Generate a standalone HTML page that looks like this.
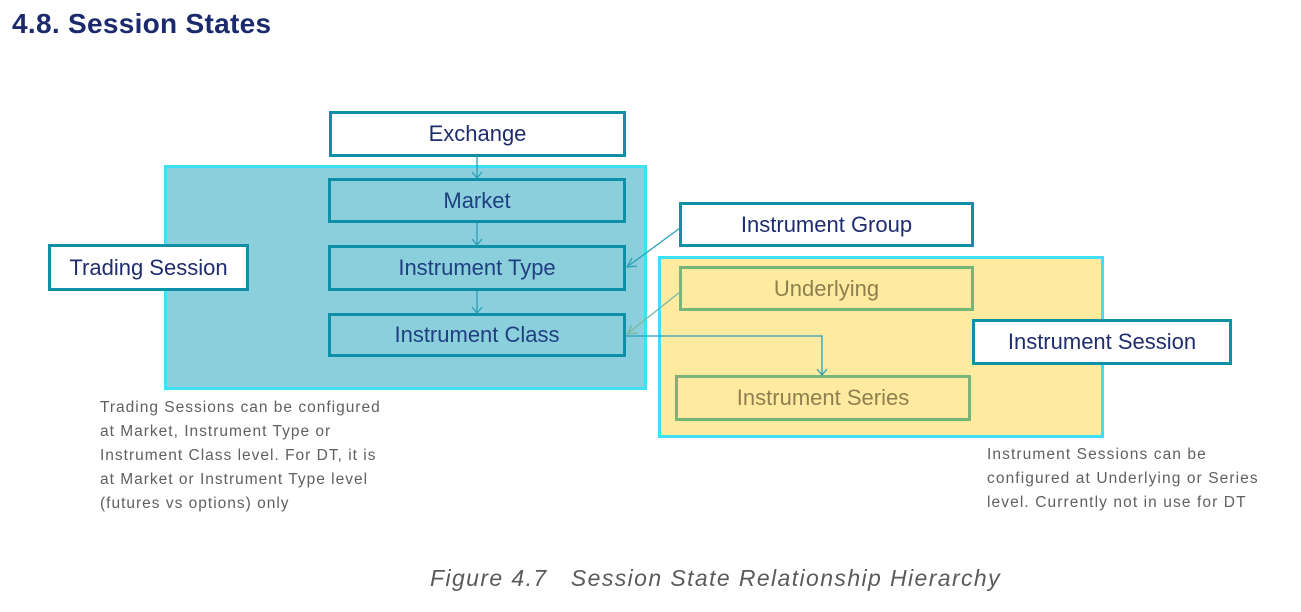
<!DOCTYPE html>
<html><head><style>
body{margin:0;width:1301px;height:612px;background:#fff;position:relative;overflow:hidden;font-family:"Liberation Sans",sans-serif}
.a{position:absolute;box-sizing:border-box}
.n{display:flex;align-items:center;justify-content:center;font-size:22px;color:#1f2d6e;border:3px solid #0f8fa8;background:#fff}
.t{background:#8ccfdc;color:#1f3f80;border-color:#0e8fa8}
.y{background:#feeba0;color:#8f7f50;border-color:#78b578}
.p{font-size:15.5px;color:#606060;line-height:24px;letter-spacing:1px}
</style></head><body>
<div class="a" style="left:12px;top:8px;font-size:28px;font-weight:bold;color:#1a2a6c;letter-spacing:0.3px">4.8. Session States</div>
<div class="a" style="left:164px;top:165px;width:483px;height:225px;background:#8ccfdc;border:3px solid #3ee0f5"></div>
<div class="a" style="left:658px;top:256px;width:446px;height:182px;background:#feeba0;border:3px solid #3ee0f5"></div>
<div class="a n" style="left:329px;top:111px;width:297px;height:46px">Exchange</div>
<div class="a n t" style="left:328px;top:178px;width:298px;height:45px">Market</div>
<div class="a n t" style="left:328px;top:245px;width:298px;height:46px">Instrument Type</div>
<div class="a n t" style="left:328px;top:313px;width:298px;height:44px">Instrument Class</div>
<div class="a n" style="left:48px;top:244px;width:201px;height:47px">Trading Session</div>
<div class="a n" style="left:679px;top:202px;width:295px;height:45px">Instrument Group</div>
<div class="a n y" style="left:679px;top:266px;width:295px;height:45px">Underlying</div>
<div class="a n y" style="left:675px;top:375px;width:296px;height:46px">Instrument Series</div>
<div class="a n" style="left:972px;top:319px;width:260px;height:46px">Instrument Session</div>
<svg class="a" style="left:0;top:0" width="1301" height="612">
<g fill="none" stroke="#2aa0b8" stroke-width="1.3">
<path d="M477 157V178M472 172l5 6 5-6"/>
<path d="M477 223V245M472 239l5 6 5-6"/>
<path d="M477 291V313M472 307l5 6 5-6"/>
<path d="M680 228L627 267M632 258l-5 9 10-1"/>
<path d="M626 336H822V375M817 369l5 6 5-6"/>
</g>
<path d="M680 292L627 334M632 325l-5 9 10-1" fill="none" stroke="#7ab7a0" stroke-width="1.3"/>
</svg>
<div class="a p" style="left:100px;top:396px">Trading Sessions can be configured<br>at Market, Instrument Type or<br>Instrument Class level. For DT, it is<br>at Market or Instrument Type level<br>(futures vs options) only</div>
<div class="a p" style="left:987px;top:443px;letter-spacing:1.1px">Instrument Sessions can be<br>configured at Underlying or Series<br>level. Currently not in use for DT</div>
<div class="a" style="left:430px;top:565px;font-size:23px;font-style:italic;color:#5a5a5a;letter-spacing:1.4px">Figure 4.7&nbsp;&nbsp; Session State Relationship Hierarchy</div>
</body></html>
